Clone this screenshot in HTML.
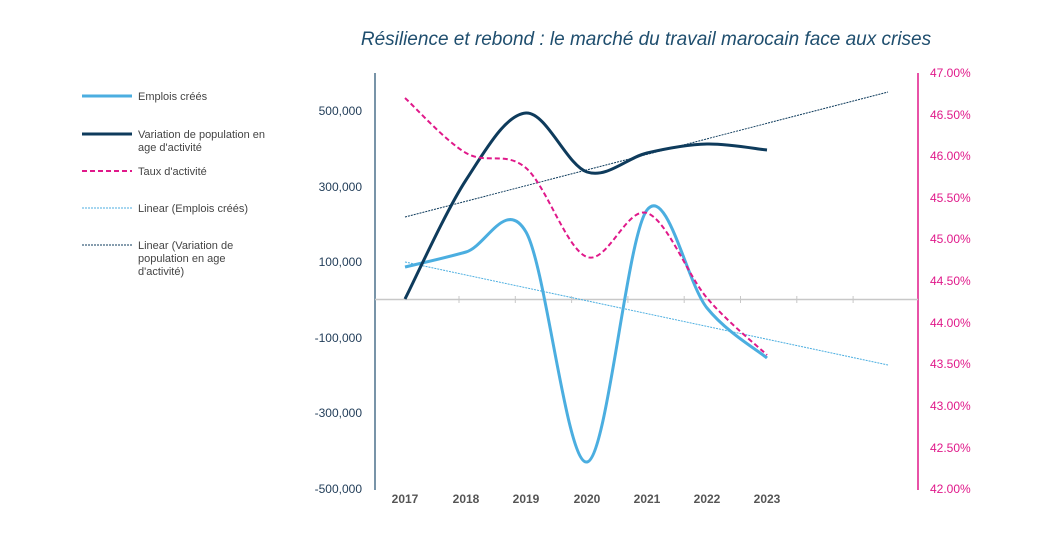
<!DOCTYPE html>
<html><head><meta charset="utf-8"><style>
body{margin:0;background:#fff;}
svg text{font-family:"Liberation Sans",sans-serif;}
</style></head><body>
<svg id="s" width="1056" height="537" xmlns="http://www.w3.org/2000/svg">
<rect width="1056" height="537" fill="#fff"/>
<text x="646" y="45" font-size="19" font-style="italic" fill="#1F4E6E" text-anchor="middle">Résilience et rebond : le marché du travail marocain face aux crises</text>
<g font-size="11" fill="#444">
<line x1="82" y1="96" x2="132" y2="96" stroke="#4BAEE0" stroke-width="3"/>
<text x="138" y="100">Emplois créés</text>
<line x1="82" y1="134" x2="132" y2="134" stroke="#0E3B5C" stroke-width="3"/>
<text x="138" y="138">Variation de population en</text><text x="138" y="151">age d'activité</text>
<line x1="82" y1="171" x2="132" y2="171" stroke="#E0198A" stroke-width="2" stroke-dasharray="5,3"/>
<text x="138" y="175">Taux d'activité</text>
<line x1="82" y1="208" x2="132" y2="208" stroke="#4BAEE0" stroke-width="1" stroke-dasharray="2,1"/>
<text x="138" y="212">Linear (Emplois créés)</text>
<line x1="82" y1="245" x2="132" y2="245" stroke="#0E3B5C" stroke-width="1" stroke-dasharray="2,1"/>
<text x="138" y="249">Linear (Variation de</text><text x="138" y="262">population en age</text><text x="138" y="275">d'activité)</text>
</g>
<g font-size="12" fill="#1F3B57" text-anchor="end">
<text x="362" y="115">500,000</text><text x="362" y="191">300,000</text><text x="362" y="266">100,000</text>
<text x="362" y="342">-100,000</text><text x="362" y="417">-300,000</text><text x="362" y="493">-500,000</text>
</g>
<g font-size="12" fill="#E0198A">
<text x="930" y="77">47.00%</text><text x="930" y="119">46.50%</text><text x="930" y="160">46.00%</text>
<text x="930" y="202">45.50%</text><text x="930" y="243">45.00%</text><text x="930" y="285">44.50%</text>
<text x="930" y="327">44.00%</text><text x="930" y="368">43.50%</text><text x="930" y="410">43.00%</text>
<text x="930" y="452">42.50%</text><text x="930" y="493">42.00%</text>
</g>
<g font-size="12" font-weight="bold" fill="#555" text-anchor="middle">
<text x="405" y="503">2017</text><text x="466" y="503">2018</text><text x="526" y="503">2019</text><text x="587" y="503">2020</text><text x="647" y="503">2021</text><text x="707" y="503">2022</text><text x="767" y="503">2023</text>
</g>
<line x1="375" y1="73" x2="375" y2="490" stroke="#1F4E6E" stroke-width="1.2"/>
<line x1="918" y1="73" x2="918" y2="490" stroke="#E0198A" stroke-width="1.5"/>
<line x1="375" y1="299.5" x2="918" y2="299.5" stroke="#C8C8C8" stroke-width="1.5"/>
<g id="ticks" stroke="#C8C8C8" stroke-width="1"></g>
<line x1="405" y1="262" x2="888" y2="365" stroke="#4BAEE0" stroke-width="1" stroke-dasharray="2,1"/>
<line x1="405" y1="217" x2="888" y2="92" stroke="#0E3B5C" stroke-width="1" stroke-dasharray="2,1"/>
<path id="p1" fill="none" stroke="#4BAEE0" stroke-width="3"/>
<path id="p2" fill="none" stroke="#0E3B5C" stroke-width="3"/>
<path id="p3" fill="none" stroke="#E0198A" stroke-width="2" stroke-dasharray="5,3"/>
</svg>
<script>
var xs=[405,466,526,587,647,707,767];
function sp(ys){var p=xs.map((x,i)=>[x,ys[i]]);var d="M"+p[0];
for(var i=0;i<p.length-1;i++){var a=p[i-1]||p[i],b=p[i],c=p[i+1],e=p[i+2]||c;var t=1/6;
d+=" C"+(b[0]+(c[0]-a[0])*t)+","+(b[1]+(c[1]-a[1])*t)+" "+(c[0]-(e[0]-b[0])*t)+","+(c[1]-(e[1]-b[1])*t)+" "+c;}return d;}
document.getElementById("p1").setAttribute("d",sp([267,252,232,462,210,308,358]));
document.getElementById("p2").setAttribute("d",sp([299,180,113,172,153,144,150]));
document.getElementById("p3").setAttribute("d",sp([98,153,168,257,213,298,355]));
var g=document.getElementById("ticks"),h="";
for(var k=0;k<8;k++){var x=459+56.3*k;h+='<line x1="'+x+'" y1="296" x2="'+x+'" y2="303"/>';}
g.innerHTML=h;
</script>
</body></html>
